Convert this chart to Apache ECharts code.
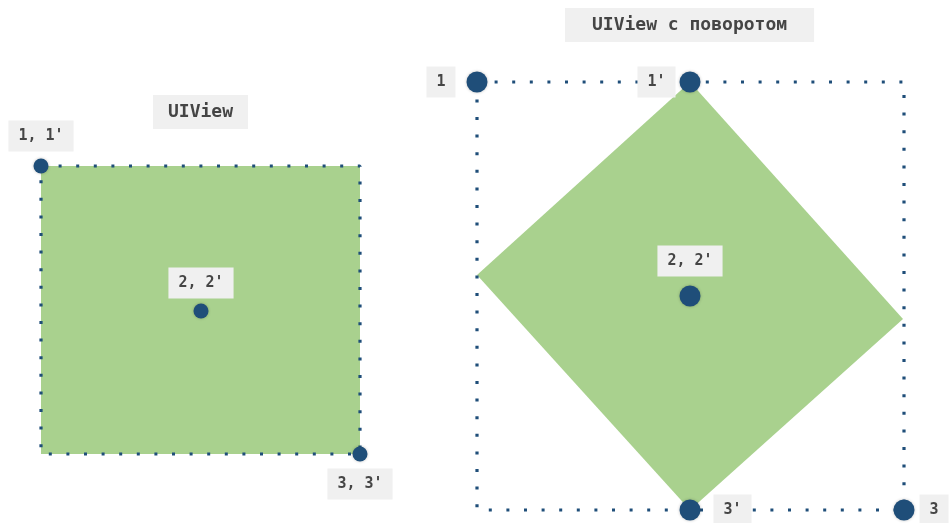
<!DOCTYPE html>
<html><head><meta charset="utf-8">
<script src="https://cdn.jsdelivr.net/npm/echarts@6/dist/echarts.min.js"></script>
<style>html,body{margin:0;padding:0;background:#fff}#c{width:949px;height:523px}</style>
</head><body><div id="c"></div>
<script>
// ---- data (diagram units: canvas pixels on hidden value axes) ----
const titles = ['UIView', 'UIView с поворотом'];

// Left view: UIView without rotation
const leftFrameX = [41, 360, 360, 41, 41];
const leftFrameY = [166, 166, 454, 454, 166];
const leftFillX = [41, 360, 360, 41];
const leftFillY = [166, 166, 454, 454];
const leftPointLabels = ["1, 1'", "2, 2'", "3, 3'"];
const leftPointX = [41, 201, 360];
const leftPointY = [166, 311, 454];

// Right view: UIView with rotation
const rightFrameX = [477, 904, 904, 477, 477];
const rightFrameY = [82, 82, 510, 510, 82];
const diamondX = [690, 903, 690, 477];
const diamondY = [82, 319, 510, 275];
const rightPointLabels = ["1", "1'", "2, 2'", "3'", "3"];
const rightPointX = [477, 690, 690, 690, 904];
const rightPointY = [82, 82, 296, 510, 510];

// ---- styles ----
const BLUE = '#1f4e79';
const GREEN = '#a9d18e';
const FONT = 'DejaVu Sans Mono';
const TEXT = '#454545';
const leftLabelPos = ['top', 'top', 'bottom'];
const leftLabelDist = [7, 5, 7];
const rightLabelPos = ['left', 'left', 'top', 'right', 'right'];
const rightLabelDist = [11, 4, 9, 13, 5];

const zip = (xs, ys) => xs.map((x, i) => [x, ys[i]]);
const polygons = [zip(leftFillX, leftFillY), zip(diamondX, diamondY)];

function pointData(names, xs, ys, pos, dist) {
  return names.map((n, i) => ({
    value: [xs[i], ys[i]],
    name: n,
    label: { position: pos[i], distance: dist[i] }
  }));
}

const labelStyle = {
  show: true,
  formatter: p => p.name,
  fontFamily: FONT,
  fontSize: 15,
  fontWeight: 'bold',
  color: TEXT,
  backgroundColor: '#f0f0f0',
  padding: [8, 10]
};

const frameLine = (xs, ys) => ({
  type: 'line',
  data: zip(xs, ys),
  showSymbol: false,
  silent: true,
  z: 2,
  lineStyle: { color: BLUE, width: 3.2, type: [3, 14.6], cap: 'butt' },
  animation: false
});

const titleText = { fontFamily: FONT, fontSize: 18, fontWeight: 'bold', color: TEXT };

const chart = echarts.init(document.getElementById('c'));
chart.setOption({
  animation: false,
  title: [
    { text: titles[0], left: 153, top: 95, backgroundColor: '#f0f0f0', padding: [8, 15], textStyle: titleText },
    { text: titles[1], left: 565, top: 8, backgroundColor: '#f0f0f0', padding: [8, 27], textStyle: titleText }
  ],
  grid: { left: 0, right: 0, top: 0, bottom: 0 },
  xAxis: { type: 'value', min: 0, max: 949, show: false },
  yAxis: { type: 'value', min: 0, max: 523, inverse: true, show: false },
  series: [
    {
      type: 'custom',
      data: polygons.map((p, i) => [i]),
      z: 1,
      renderItem: (params, api) => ({
        type: 'polygon',
        shape: { points: polygons[params.dataIndex].map(pt => api.coord(pt)) },
        style: { fill: GREEN }
      })
    },
    frameLine(leftFrameX, leftFrameY),
    frameLine(rightFrameX, rightFrameY),
    {
      type: 'scatter', z: 3, symbolSize: 15,
      itemStyle: { color: BLUE, opacity: 1, shadowBlur: 3, shadowColor: 'rgba(0,0,0,0.25)' },
      label: labelStyle,
      data: pointData(leftPointLabels, leftPointX, leftPointY, leftLabelPos, leftLabelDist)
    },
    {
      type: 'scatter', z: 3, symbolSize: 21,
      itemStyle: { color: BLUE, opacity: 1, shadowBlur: 3, shadowColor: 'rgba(0,0,0,0.25)' },
      label: labelStyle,
      data: pointData(rightPointLabels, rightPointX, rightPointY, rightLabelPos, rightLabelDist)
    }
  ]
});
</script></body></html>
